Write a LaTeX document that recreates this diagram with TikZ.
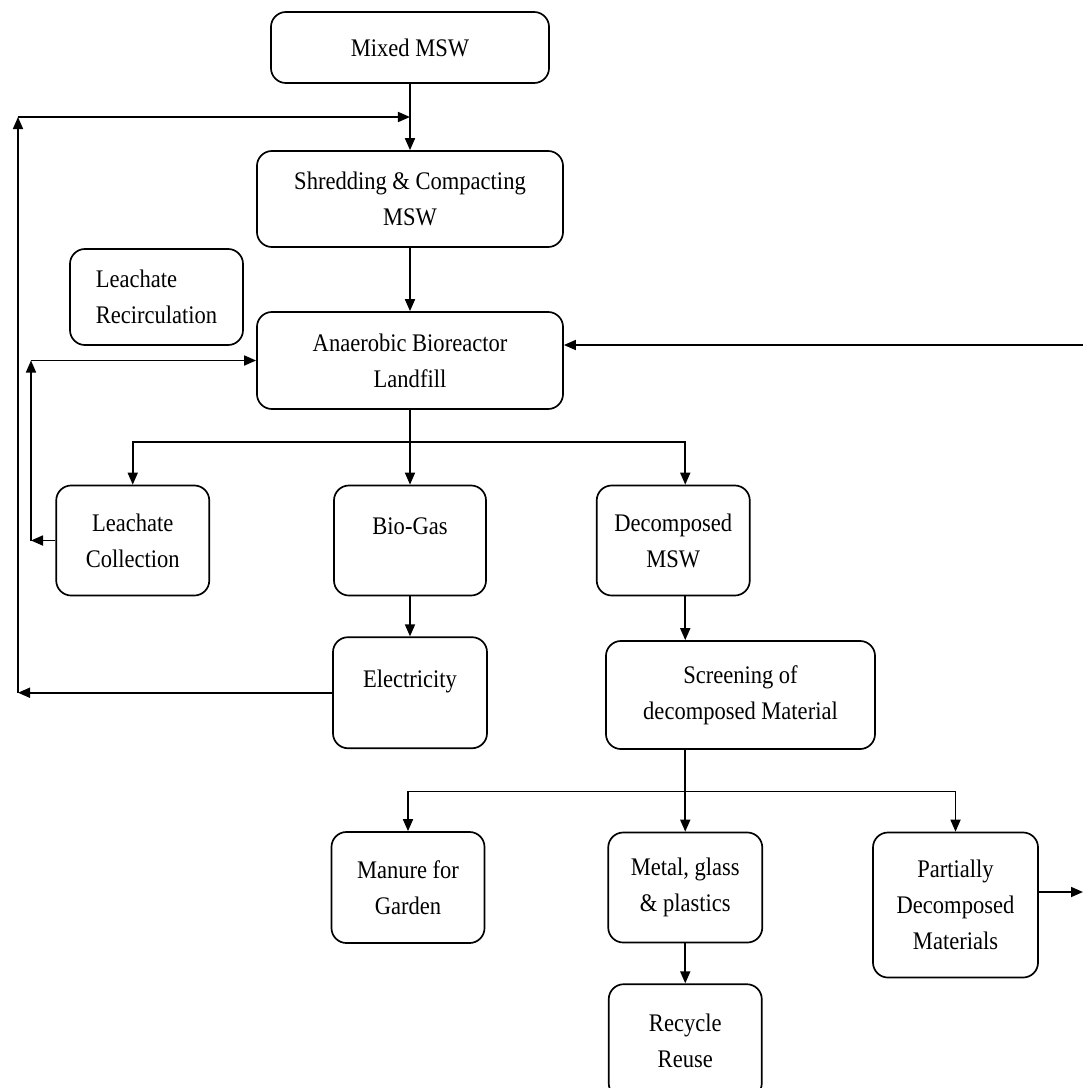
\documentclass[tikz,border=0pt]{standalone}
\usepackage{fontspec}
\setmainfont{Liberation Serif}[FakeStretch=0.89]
\usetikzlibrary{arrows.meta, positioning}

\tikzset{
    box/.style 2 args={draw, line width=1.2pt, rounded corners=0.375cm, align=center,
        minimum width=#1, minimum height=#2, inner sep=2pt, fill=white,
        font=\fontsize{18}{25.5}\selectfont},
    upper/.style={text depth=0.7cm},
    flow/.style={line width=1.2pt, -{Triangle[length=0.3cm,width=0.25cm]}},
    link/.style={line width=1.2pt}
}

\begin{document}
\begin{tikzpicture}[x=0.025cm, y=-0.025cm]
        \useasboundingbox (0,0) rectangle (1083,1088);

        % Draw the boxes
        \node[box={6.95cm}{1.775cm}]           (mixed)  at (410,47.5)  {Mixed MSW};
        \node[box={7.65cm}{2.4cm}]             (shred)  at (410,199)   {Shredding \& Compacting\\MSW};
        \node[box={4.325cm}{2.4cm}, align=left] (recirc) at (156.5,297) {Leachate\\Recirculation};
        \node[box={7.65cm}{2.425cm}]           (anaer)  at (410,360.5) {Anaerobic Bioreactor\\Landfill};

        \node[box={3.8cm}{2.75cm}, upper]      (biogas) at (410,540.5) {Bio-Gas};
        \node[box={3.825cm}{2.75cm}, left=3.075cm of biogas]  (collect) {Leachate\\Collection};
        \node[box={3.825cm}{2.75cm}, right=2.725cm of biogas] (decomp)  {Decomposed\\MSW};
        \node[box={3.85cm}{2.775cm}, upper, below=1.0cm of biogas] (elec) {Electricity};

        \node[box={6.725cm}{2.7cm}]            (screen) at (740.5,695) {Screening of\\decomposed Material};

        \node[box={3.825cm}{2.775cm}]          (manure) at (408,887.5) {Manure for\\Garden};
        \node[box={3.85cm}{2.75cm}, right=3.05cm of manure]  (metal) {Metal, glass\\\& plastics};
        \node[box={4.125cm}{3.625cm}, right=2.725cm of metal.north east, anchor=north west] (partial) {Partially\\Decomposed\\Materials};
        \node[box={3.825cm}{2.85cm}, below=1.0cm of metal]   (recycle) {Recycle\\Reuse};

        % Helper points for the branches and loops
        \coordinate (railtop) at (18,117);
        \coordinate (mixjoin) at (410,117);
        \coordinate (looptop) at (31,360.5);
        \coordinate (split1)  at (410,442);
        \path (metal.north) ++(0,-40) coordinate (split2);
        \coordinate (backin)  at (1083,345);
        \coordinate (out)     at (1083,892);

        % Connect the boxes with arrows
        \draw[flow] (mixed) -- (shred);
        \draw[flow] (shred) -- (anaer);

        \draw[flow] (elec.west) -- (elec.west -| railtop);
        \draw[flow] (elec.west -| railtop) -- (railtop);
        \draw[flow] (railtop) -- (mixjoin);

        \draw[flow] (collect.west) -- (collect.west -| looptop);
        \draw[flow] (collect.west -| looptop) -- (looptop);
        \draw[flow] (looptop) -- (anaer.west);

        \draw[link] (anaer.south) -- (split1);
        \draw[flow] (split1) -| (collect.north);
        \draw[flow] (split1) -- (biogas.north);
        \draw[flow] (split1) -| (decomp.north -| metal.north);

        \draw[flow] (biogas) -- (elec);
        \draw[flow] (decomp.south -| metal.north) -- (screen.north -| metal.north);

        \draw[link] (screen.south -| metal.north) -- (split2);
        \draw[flow] (split2) -| (manure.north);
        \draw[flow] (split2) -- (metal.north);
        \draw[flow] (split2) -| (partial.north);
        \draw[flow] (metal) -- (recycle);

        \draw[flow] (backin) -- (backin -| anaer.east);
        \draw[flow] (partial.east |- out) -- (out);
\end{tikzpicture}
\end{document}
